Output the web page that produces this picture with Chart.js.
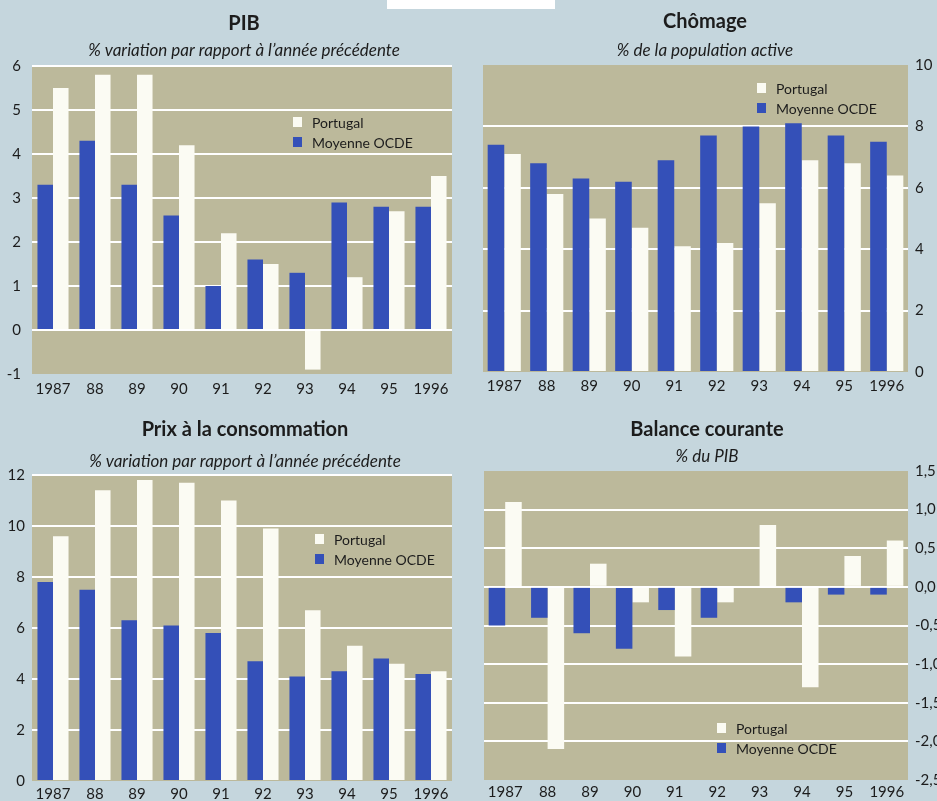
<!DOCTYPE html>
<html>
<head>
<meta charset="utf-8">
<script src="https://cdn.jsdelivr.net/npm/chart.js@4"></script>
<style>
  html, body { margin: 0; padding: 0; }
  body { width: 937px; height: 801px; overflow: hidden; position: relative; background: #c5d6dd; }
  canvas { position: absolute; }
  #tab { position: absolute; left: 387px; top: 0; width: 168px; height: 9px; background: #fff; }
</style>
</head>
<body>
<div id="tab"></div>
<canvas id="pib" width="468" height="400" style="left:0;top:0"></canvas>
<canvas id="chomage" width="469" height="400" style="left:468px;top:0"></canvas>
<canvas id="prix" width="468" height="401" style="left:0;top:400px"></canvas>
<canvas id="balance" width="469" height="401" style="left:468px;top:400px"></canvas>
<script>
// years on the x axis
var years = ['1987', '88', '89', '90', '91', '92', '93', '94', '95', '1996'];

// PIB, % variation
var pibPortugal = [5.5, 5.8, 5.8, 4.2, 2.2, 1.5, -0.9, 1.2, 2.7, 3.5];
var pibOcde = [3.3, 4.3, 3.3, 2.6, 1.0, 1.6, 1.3, 2.9, 2.8, 2.8];

// Chomage, % population active
var chomPortugal = [7.1, 5.8, 5.0, 4.7, 4.1, 4.2, 5.5, 6.9, 6.8, 6.4];
var chomOcde = [7.4, 6.8, 6.3, 6.2, 6.9, 7.7, 8.0, 8.1, 7.7, 7.5];

// Prix a la consommation
var prixPortugal = [9.6, 11.4, 11.8, 11.7, 11.0, 9.9, 6.7, 5.3, 4.6, 4.3];
var prixOcde = [7.8, 7.5, 6.3, 6.1, 5.8, 4.7, 4.1, 4.3, 4.8, 4.2];

// Balance courante, % du PIB
var balPortugal = [1.1, -2.1, 0.3, -0.2, -0.9, -0.2, 0.8, -1.3, 0.4, 0.6];
var balOcde = [-0.5, -0.4, -0.6, -0.8, -0.3, -0.4, 0, -0.2, -0.1, -0.1];

var blue = '#3450b8';
var white = '#fbfbf3';
var khaki = '#bcb99b';
var ink = '#1c1c1c';
var font = 'Lato';

// khaki plot background
var plotBg = {
    id: 'plotBg',
    beforeDraw: function(chart) {
        var a = chart.chartArea;
        var ctx = chart.ctx;
        ctx.save();
        ctx.fillStyle = khaki;
        ctx.fillRect(a.left, a.top, a.right - a.left, a.bottom - a.top);
        ctx.restore();
    }
};

// title, subtitle and the little legend box
var decor = {
    id: 'decor',
    afterDraw: function(chart, args, o) {
        var ctx = chart.ctx;
        ctx.save();
        ctx.fillStyle = ink;
        ctx.textAlign = 'center';
        ctx.textBaseline = 'middle';
        ctx.font = 'bold 20px ' + font;
        ctx.fillText(o.title, o.tx, o.ty);
        ctx.font = 'italic 17px ' + font;
        ctx.fillText(o.sub, o.tx, o.sy);

        // legend
        var items = [['Portugal', white], ['Moyenne OCDE', blue]];
        ctx.textAlign = 'left';
        ctx.font = '14px ' + font;
        items.forEach(function(it, i) {
            var y = o.ly + i * 20;
            ctx.fillStyle = it[1];
            ctx.fillRect(o.lx, y - 5, 9, 10);
            ctx.fillStyle = ink;
            ctx.fillText(it[0], o.lx + 19, y + 1);
        });
        ctx.restore();
    }
};

function makePanel(id, p) {
    return new Chart(document.getElementById(id), {
        type: 'bar',
        data: {
            labels: years,
            datasets: [{
                label: 'Moyenne OCDE',
                data: p.ocde,
                backgroundColor: blue
            }, {
                label: 'Portugal',
                data: p.portugal,
                backgroundColor: white
            }]
        },
        options: {
            responsive: false,
            animation: false,
            datasets: { bar: { categoryPercentage: p.cat, barPercentage: 1 } },
            layout: { padding: p.pad },
            plugins: {
                legend: { display: false },
                tooltip: { enabled: false },
                decor: p.decor
            },
            scales: {
                x: {
                    grid: { display: false, drawTicks: false },
                    border: { display: false },
                    ticks: {
                        color: ink, font: { family: font, size: 15 },
                        padding: p.xPad, maxRotation: 0, autoSkip: false
                    },
                    afterFit: function(s) { s.height = p.xH; }
                },
                y: {
                    position: p.yPos,
                    min: p.min, max: p.max,
                    grid: {
                        drawTicks: false,
                        lineWidth: 2,
                        color: function(c) {
                            var v = c.tick.value;
                            var hide = p.hide.some(function(h) { return Math.abs(h - v) < 1e-6; });
                            return hide ? 'rgba(0,0,0,0)' : '#ffffff';
                        }
                    },
                    border: { display: false },
                    ticks: {
                        stepSize: p.step,
                        color: ink, font: { family: font, size: 15 },
                        padding: p.yPad,
                        callback: p.fmt || function(v) { return v; }
                    },
                    afterFit: function(s) { s.width = p.yW; }
                }
            }
        },
        plugins: [plotBg, decor]
    });
}

makePanel('pib', {
    portugal: pibPortugal, ocde: pibOcde, cat: 0.74,
    pad: { top: 66, right: 16, left: 0, bottom: 0 },
    xH: 26, xPad: 6, yPos: 'left', yW: 32, yPad: 11,
    min: -1, max: 6, step: 1, hide: [-1],
    decor: { title: 'PIB', sub: '% variation par rapport à l\u2019année précédente', tx: 244, ty: 24, sy: 51, lx: 293, ly: 122 }
});

makePanel('chomage', {
    portugal: chomPortugal, ocde: chomOcde, cat: 0.78,
    pad: { top: 65, right: 0, left: 15, bottom: 0 },
    xH: 28, xPad: 5, yPos: 'right', yW: 29, yPad: 7,
    min: 0, max: 10, step: 2, hide: [0, 10],
    decor: { title: 'Chômage', sub: '% de la population active', tx: 237, ty: 22, sy: 51, lx: 289, ly: 88 }
});

makePanel('prix', {
    portugal: prixPortugal, ocde: prixOcde, cat: 0.74,
    pad: { top: 75, right: 16, left: 0, bottom: 0 },
    xH: 20, xPad: 4, yPos: 'left', yW: 32, yPad: 7,
    min: 0, max: 12, step: 2, hide: [0],
    decor: { title: 'Prix à la consommation', sub: '% variation par rapport à l\u2019année précédente', tx: 245, ty: 30, sy: 62, lx: 315, ly: 139 }
});

makePanel('balance', {
    portugal: balPortugal, ocde: balOcde, cat: 0.78,
    pad: { top: 71, right: 0, left: 16, bottom: 0 },
    xH: 21, xPad: 3, yPos: 'right', yW: 29, yPad: 7,
    min: -2.5, max: 1.5, step: 0.5, hide: [-2.5, 1.5],
    fmt: function(v) { return v.toFixed(1).replace('.', ','); },
    decor: { title: 'Balance courante', sub: '% du PIB', tx: 239, ty: 30, sy: 57, lx: 249, ly: 328 }
});
</script>
</body>
</html>
